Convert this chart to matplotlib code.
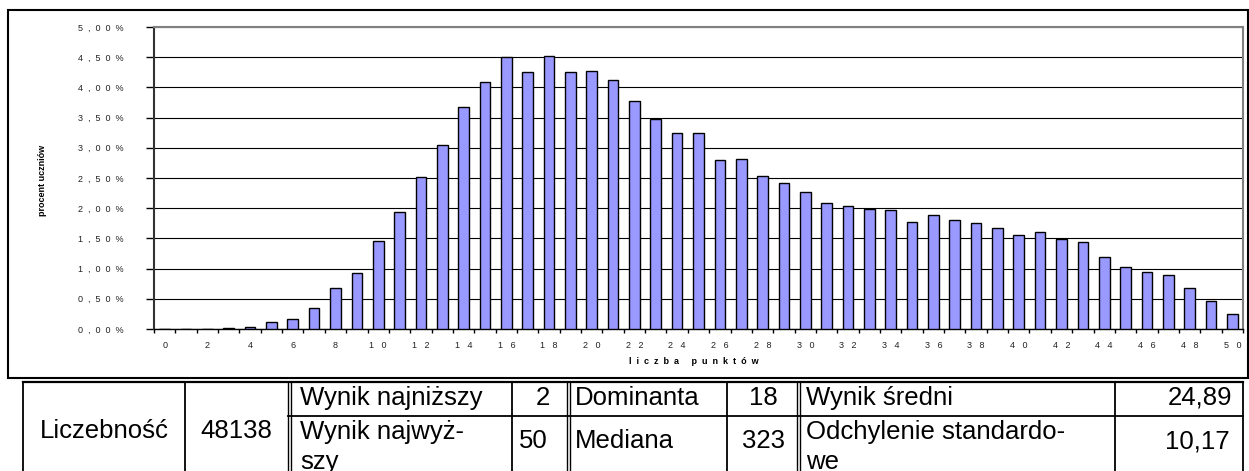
import matplotlib.pyplot as plt
from matplotlib.patches import Rectangle

plt.rcParams['font.family'] = ['Liberation Sans', 'DejaVu Sans']

# score distribution (percent of pupils for each score 0..50)
scores = list(range(51))
percent = [0, 0, 0.005, 0.02, 0.04, 0.11, 0.16, 0.34, 0.68, 0.92,
           1.45, 1.93, 2.52, 3.05, 3.67, 4.09, 4.50, 4.25, 4.52, 4.26,
           4.27, 4.12, 3.78, 3.47, 3.25, 3.24, 2.80, 2.82, 2.53, 2.41,
           2.26, 2.09, 2.04, 1.99, 1.97, 1.77, 1.89, 1.80, 1.76, 1.67,
           1.56, 1.60, 1.49, 1.44, 1.19, 1.03, 0.94, 0.89, 0.68, 0.47,
           0.25]
y_ticks = [0, 0.5, 1, 1.5, 2, 2.5, 3, 3.5, 4, 4.5, 5]
x_label_ticks = list(range(0, 51, 2))

# summary table
count_label = "Liczebność"
count_value = "48138"
row1_labels = ["Wynik najniższy", "Dominanta", "Wynik średni"]
row1_values = ["2", "18", "24,89"]
row2_labels = ["Wynik najwyż-\nszy", "Mediana", "Odchylenie standardo-\nwe"]
row2_values = ["50", "323", "10,17"]

W, H = 1249, 471
fig = plt.figure(figsize=(W / 100, H / 100), dpi=100)

def fx(px):
    return px / W

def fy(py):
    return 1 - py / H

# --- chart ---
left, right, top, bottom = 154, 1243, 27, 329
ax = fig.add_axes([fx(left), fy(bottom), fx(right - left), (bottom - top) / H])
ax.bar(scores, percent, width=0.5, color='#9999FF', edgecolor='black', linewidth=1, zorder=3)
ax.set_xlim(-0.5, 50.5)
ax.set_ylim(0, 5)
ax.set_axisbelow(True)
ax.yaxis.grid(True, color='black', linewidth=0.8)

ax.set_yticks(y_ticks)
ax.set_yticklabels(['  '.join(f"{v:.2f}%".replace('.', ',')) for v in y_ticks],
                   fontsize=6.5, color='#222222')
ax.tick_params(axis='y', direction='out', length=6, width=1, pad=16)

ax.set_xticks(x_label_ticks)
ax.set_xticklabels(['   '.join(str(v)) for v in x_label_ticks], fontsize=6.5, color='#222222')
ax.set_xticks([k + 0.5 for k in range(-1, 51)], minor=True)
ax.tick_params(axis='x', which='major', length=0, pad=9)
ax.tick_params(axis='x', which='minor', direction='out', length=3, width=1)

ax.spines['left'].set_linewidth(1.5)
ax.spines['left'].set_color('#333333')
ax.spines['bottom'].set_linewidth(1)
for s in ['top', 'right']:
    ax.spines[s].set_color('#808080')
    ax.spines[s].set_linewidth(1.5)

# --- overlay in pixel coordinates: frame, axis titles, table ---
ov = fig.add_axes([0, 0, 1, 1])
ov.set_xlim(0, W)
ov.set_ylim(H, 0)
ov.axis('off')
ov.patch.set_alpha(0)

ov.add_patch(Rectangle((8, 10), 1240, 368, fill=False, edgecolor='black', linewidth=1.5))
ov.text(43, 180, 'procent uczniów', rotation=90, ha='center', va='center',
        fontsize=6.5, fontweight='bold')
ov.text(694, 361, 'l  i  c  z  b  a     p  u  n  k  t  ó  w', ha='center', va='center',
        fontsize=6.5, fontweight='bold')

lw = 1.3
t_top, t_mid, t_bot = 382, 416, 490
ov.plot([23, 1243], [t_top, t_top], color='black', linewidth=1.6)
ov.plot([288, 1243], [t_mid, t_mid], color='black', linewidth=lw)
for x in [23, 185, 512, 727, 1115, 1243]:
    ov.plot([x, x], [t_top, t_bot], color='black', linewidth=lw)
for x in [288, 567, 797]:
    for dx in (0, 3.5):
        ov.plot([x + dx, x + dx], [t_top, t_bot], color='black', linewidth=1)

fs = 18.5
ov.text(104, 438, count_label, ha='center', va='baseline', fontsize=fs)
ov.text(236, 438, count_value, ha='center', va='baseline', fontsize=fs)

label_x = [300, 575, 806]
val_right1 = [550, 778, 1232]
val_right2 = [548, 785, 1230]
for i in range(3):
    ov.text(label_x[i], 405, row1_labels[i], ha='left', va='baseline', fontsize=fs)
    ov.text(val_right1[i], 405, row1_values[i], ha='right', va='baseline', fontsize=fs)
    lines = row2_labels[i].split('\n')
    if len(lines) == 1:
        ov.text(label_x[i], 448, lines[0], ha='left', va='baseline', fontsize=fs)
    else:
        for j, line in enumerate(lines):
            ov.text(label_x[i], 439 + 30 * j, line, ha='left', va='baseline', fontsize=fs)
    ov.text(val_right2[i], 448, row2_values[i], ha='right', va='baseline', fontsize=fs)

fig.savefig('out.png', dpi=100)
